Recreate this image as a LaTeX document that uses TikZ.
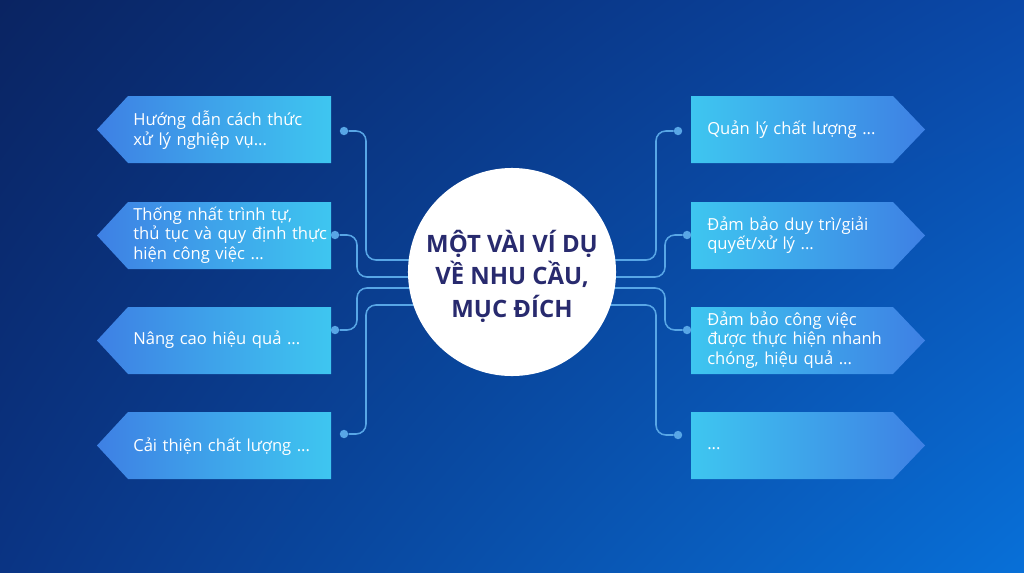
\documentclass[tikz,border=0pt]{standalone}
\usepackage{fontspec}
\setmainfont{Open Sans}
\usetikzlibrary{positioning,shadings}
\definecolor{bgUL}{RGB}{10,36,98}
\definecolor{bgUR}{RGB}{10,72,168}
\definecolor{bgLL}{RGB}{10,52,132}
\definecolor{bgLR}{RGB}{8,112,216}
\definecolor{boxblue}{RGB}{62,128,228}
\definecolor{boxcyan}{RGB}{62,198,240}
\definecolor{linkblue}{RGB}{88,166,230}
\definecolor{titlenavy}{RGB}{40,42,110}
\begin{document}
\begin{tikzpicture}[x=0.025cm,y=-0.025cm,
  link/.style={draw=linkblue,line width=1.1pt,rounded corners=7},
  dot/.style={circle,fill=linkblue,inner sep=0pt,minimum size=6pt},
  lbl/.style={text=white,font=\fontsize{11.8}{13.8}\selectfont,align=left,anchor=west,text width=5.6cm,inner sep=0pt}]
\shade[upper left=bgUL,upper right=bgUR,lower left=bgLL,lower right=bgLR] (0,0) rectangle (1024,572);
\foreach \y in {96,202,307,412}{
  \shade[left color=boxblue,right color=boxcyan] (97,\y+33.5) -- (128,\y) -- (331,\y) -- (331,\y+67) -- (128,\y+67) -- cycle;
  \shade[left color=boxcyan,right color=boxblue] (691,\y) -- (893,\y) -- (925,\y+33.5) -- (893,\y+67) -- (691,\y+67) -- cycle;
}
\coordinate (c) at (512,272);
\node[dot] (dL1) at (344,131) {};
\node[dot] (dL2) at (335,235) {};
\node[dot] (dL3) at (335,330) {};
\node[dot] (dL4) at (344,434) {};
\node[dot] (dR1) at (678,131) {};
\node[dot] (dR2) at (687,235) {};
\node[dot] (dR3) at (687,330) {};
\node[dot] (dR4) at (678,435) {};
\draw[link] (dL1) -| (366,260) -- (366,260 -| c);
\draw[link] (dL2) -| (357,277) -- (357,277 -| c);
\draw[link] (dL3) -| (357,288) -- (357,288 -| c);
\draw[link] (dL4) -| (366,305) -- (366,305 -| c);
\draw[link] (dR1) -| (656,260) -- (656,260 -| c);
\draw[link] (dR2) -| (665,277) -- (665,277 -| c);
\draw[link] (dR3) -| (665,288) -- (665,288 -| c);
\draw[link] (dR4) -| (656,305) -- (656,305 -| c);
\node[circle,fill=white,minimum size=5.2cm,inner sep=0pt] (hub) at (c) {};
\node[text=titlenavy,font=\fontsize{17}{23}\selectfont\bfseries,align=center] (ttl) at ([yshift=-3pt]hub) {MỘT VÀI VÍ DỤ\\VỀ NHU CẦU,\\MỤC ĐÍCH};
\node[lbl] (tL1) at (133,130) {Hướng dẫn cách thức\\xử lý nghiệp vụ...};
\node[lbl] (tL2) at (133,235) {Thống nhất trình tự,\\thủ tục và quy định thực\\hiện công việc ...};
\node[lbl] (tL3) at (133,340) {Nâng cao hiệu quả ...};
\node[lbl] (tL4) at (133,447) {Cải thiện chất lượng ...};
\node[lbl] (tR1) at (707,130) {Quản lý chất lượng ...};
\node[lbl] (tR2) at (707,235) {Đảm bảo duy trì/giải\\quyết/xử lý ...};
\node[lbl] (tR3) at (707,340) {Đảm bảo công việc\\được thực hiện nhanh\\chóng, hiệu quả ...};
\node[lbl] (tR4) at (707,449) {...};
\end{tikzpicture}
\end{document}
